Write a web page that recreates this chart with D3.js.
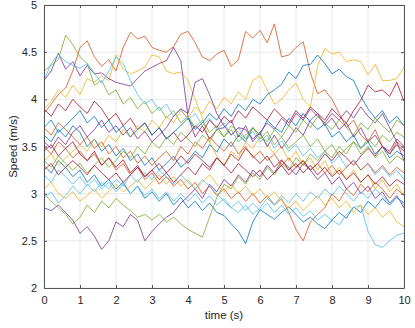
<!DOCTYPE html>
<html>
<head>
<meta charset="utf-8">
<script src="https://cdn.jsdelivr.net/npm/d3@7"></script>
<style>
  body { margin: 0; background: #fff; }
  text { font-family: "Liberation Sans", Arial, sans-serif; fill: #262626; }
</style>
</head>
<body>
<script>
// time axis: 0..10 s, step 0.2 s
var times = d3.range(0, 51).map(function(i){ return +(i * 0.2).toFixed(1); });
var xTicks = [0,1,2,3,4,5,6,7,8,9,10];
var yTicks = [2,2.5,3,3.5,4,4.5,5];
var colors = ['#0072BD','#D95319','#EDB120','#7E2F8E','#77AC30','#4DBEEE','#A2142F'];

var s1 = [3.62,3.55,3.68,3.6,3.72, 3.65,3.5,3.58,3.45,3.52, 3.4,3.48,3.35,3.42,3.3, 3.38,3.25,3.32,3.4,3.28, 3.35,3.45,3.38,3.52,3.44, 3.58,3.5,3.62,3.55,3.7, 3.62,3.78,3.7,3.65,3.8, 3.72,3.85,3.76,3.68,3.74, 3.6,3.66,3.55,3.62,3.48, 3.55,3.42,3.5,3.38,3.45, 3.4];
var s2 = [3.85,3.95,4.05,4.12,4.3, 4.55,4.62,4.45,4.35,4.42, 4.3,4.55,4.71,4.64,4.67, 4.55,4.52,4.5,4.56,4.69, 4.72,4.6,4.45,4.41,4.48, 4.52,4.35,4.42,4.72,4.65, 4.73,4.6,4.8,4.45,4.47, 4.55,4.61,4.28,4.06,4.1, 4.0,3.85,3.7,3.78,3.62, 3.55,3.68,3.5,3.42,3.55, 3.48];
var s3 = [3.9,3.98,4.1,4.02,4.15, 4.05,4.22,4.18,4.25,4.2, 4.47,4.32,4.27,4.3,4.34, 4.47,4.45,4.3,4.27,4.29, 4.2,4.0,3.8,3.55,3.4, 3.3,3.45,3.38,3.55,3.48, 3.6,3.52,3.42,3.5,3.35, 3.45,3.3,3.38,3.25,3.35, 3.2,3.28,3.15,3.25,3.12, 3.2,3.05,3.15,3.02,3.1, 2.98];
var s4 = [4.2,4.3,4.49,4.32,4.4, 4.25,4.36,4.27,4.28,4.22, 4.18,4.16,4.14,4.22,4.3, 4.34,4.38,4.41,4.55,4.41, 3.82,3.6,3.72,3.58,3.68, 3.7,3.78,3.6,3.72,3.55, 3.65,3.5,3.62,3.48,3.58, 3.7,3.62,3.78,3.85,3.72, 3.8,3.68,3.75,3.6,3.7, 3.55,3.62,3.5,3.45,3.58, 3.5];
var s5 = [4.3,4.36,4.42,4.68,4.58, 4.45,4.38,4.15,4.2,4.05, 4.1,3.95,4.02,3.9,3.98, 3.85,3.92,3.8,3.88,3.75, 3.82,3.7,3.78,3.65,3.72, 3.6,3.68,3.55,3.62,3.7, 3.58,3.66,3.52,3.6,3.48, 3.55,3.62,3.5,3.58,3.45, 3.52,3.4,3.48,3.55,3.42, 3.5,3.38,3.45,3.32,3.4, 3.35];
var s6 = [4.2,4.38,4.48,4.4,4.36, 4.33,4.38,4.28,4.17,4.3, 4.45,4.38,4.2,4.05,3.95, 4.0,3.88,3.95,3.82,3.9, 3.78,3.85,3.72,3.8,3.68, 3.75,3.62,3.7,3.58,3.66, 3.55,3.62,3.48,3.56,3.45, 3.52,3.4,3.48,3.38,3.45, 3.32,3.4,3.28,3.36,3.25, 3.32,3.2,3.28,3.18,3.25, 3.15];
var s7 = [3.9,3.82,3.95,3.88,4.0, 3.92,3.85,3.98,3.9,3.78, 3.85,3.72,3.8,3.68,3.75, 3.62,3.7,3.58,3.65,3.55, 3.62,3.72,3.65,3.78,3.7, 3.82,3.75,3.88,3.8,3.92, 3.85,3.78,3.9,3.82,3.75, 3.88,3.8,3.92,3.85,3.78, 3.9,3.82,3.75,3.88,3.99, 4.15,4.08,4.1,4.03,4.18, 3.98];
var s8 = [3.3,3.22,3.35,3.28,3.18, 3.25,3.12,3.2,3.08,3.15, 3.05,3.12,3.0,3.08,2.95, 3.02,2.92,3.0,2.88,2.96, 2.85,2.92,2.82,2.9,2.8, 2.77,2.68,2.6,2.47,2.7, 2.83,2.78,2.73,2.8,2.86, 2.78,2.7,2.75,2.68,2.63, 2.72,2.8,2.74,2.86,2.8, 2.92,2.85,2.95,2.88,2.96, 2.9];
var s9 = [3.5,3.42,3.55,3.48,3.38, 3.45,3.35,3.42,3.3,3.38, 3.25,3.32,3.2,3.28,3.15, 3.22,3.1,3.18,3.08,3.15, 3.05,3.12,3.0,3.08,2.98, 3.05,2.95,3.02,2.92,3.0, 2.9,2.98,2.88,2.95,2.8, 2.62,2.5,2.7,2.78,2.85, 3.0,2.92,3.05,2.98,3.1, 3.02,3.12,3.05,2.95,3.05, 2.98];
var s10 = [3.35,3.42,3.3,3.38,3.45, 3.52,3.45,3.58,3.5,3.62, 3.55,3.68,3.6,3.72,3.65, 3.78,3.7,3.82,3.75,3.88, 3.8,3.92,3.85,3.98,3.9, 4.02,3.95,4.08,4.0,4.2, 4.25,4.1,3.95,4.0,4.1, 4.17,4.0,3.92,4.35,4.54, 4.48,4.5,4.4,4.42,4.4, 4.26,4.37,4.2,4.2,4.22, 4.34];
var s11 = [2.85,2.82,2.88,2.8,2.72, 2.58,2.65,2.55,2.41,2.5, 2.7,2.65,2.78,2.72,2.5, 2.6,2.68,2.75,2.8,2.9, 2.97,3.05,2.95,3.1,3.02, 3.15,3.08,3.2,3.12,3.25, 3.18,3.3,3.22,3.35,3.28, 3.2,3.32,3.25,3.15,3.22, 3.1,3.18,3.05,3.12,3.0, 3.08,2.95,3.02,2.9,2.98, 2.85];
var s12 = [3.0,2.92,2.85,2.78,2.68, 2.75,2.88,2.8,2.92,2.85, 2.95,2.88,2.82,2.75,2.78, 2.72,2.78,2.7,2.75,2.68, 2.62,2.58,2.54,2.75,2.96, 3.1,3.05,3.18,3.1,3.22, 3.15,3.28,3.2,3.32,3.25, 3.38,3.3,3.42,3.35,3.45, 3.38,3.5,3.42,3.55,3.48, 3.58,3.5,3.62,3.55,3.65, 3.6];
var s13 = [3.2,3.12,3.25,3.18,3.1, 3.18,3.08,3.15,3.05,3.12, 3.02,3.1,3.0,3.08,2.98, 3.05,2.95,3.02,2.92,3.0, 2.92,3.0,2.9,2.98,2.88, 2.95,2.85,2.92,2.82,2.9, 2.82,2.9,2.8,2.88,2.78, 2.85,2.76,2.82,2.72,2.78, 2.72,2.67,2.78,2.85,2.88, 2.6,2.46,2.43,2.5,2.56, 2.58];
var s14 = [3.45,3.52,3.4,3.48,3.55, 3.42,3.35,3.45,3.3,3.38, 3.28,3.36,3.22,3.3,3.18, 3.25,3.15,3.22,3.12,3.2, 3.28,3.2,3.32,3.25,3.38, 3.3,3.42,3.35,3.48,3.4, 3.32,3.4,3.28,3.36,3.25, 3.32,3.22,3.3,3.2,3.28, 3.18,3.25,3.15,3.22,3.12, 3.2,3.1,3.18,3.08,3.15, 3.1];
var s15 = [3.7,3.78,3.65,3.72,3.8, 3.88,3.75,3.82,3.7,3.78, 3.65,3.72,3.6,3.68,3.75, 3.62,3.7,3.58,3.65,3.72, 3.8,3.68,3.75,3.85,3.78, 3.9,3.82,3.95,3.88,4.0, 3.95,4.05,4.1,4.16,4.29, 4.22,4.36,4.37,4.47,4.38, 4.27,4.32,4.24,4.2,4.03, 3.9,3.8,3.88,3.75,3.82, 3.72];
var s16 = [3.7,3.62,3.75,3.68,3.6, 3.52,3.6,3.48,3.55,3.42, 3.5,3.38,3.45,3.32,3.4, 3.3,3.38,3.45,3.35,3.5, 3.42,3.55,3.48,3.6,3.52, 3.45,3.55,3.42,3.5,3.38, 3.45,3.35,3.42,3.3,3.38, 3.28,3.35,3.25,3.32,3.22, 3.3,3.2,3.28,3.35,3.25, 3.32,3.22,3.3,3.2,3.28, 3.22];
var s17 = [3.05,3.12,3.0,2.95,3.02, 2.92,2.98,3.05,2.95,3.02, 3.1,3.02,3.08,3.15,3.05, 3.12,3.2,3.1,3.18,3.08, 3.15,3.05,3.12,3.2,3.1, 3.02,3.1,3.0,3.08,2.98, 3.05,2.95,3.02,2.92,2.85, 2.92,2.82,2.9,2.98,2.88, 2.95,2.85,2.92,2.8,2.88, 2.78,2.85,2.75,2.82,2.7, 2.65];
var s18 = [3.55,3.48,3.6,3.52,3.65, 3.72,3.6,3.68,3.78,3.65, 3.72,3.62,3.7,3.58,3.66, 3.55,3.62,3.7,3.82,3.9, 3.85,4.18,4.22,4.05,3.85, 3.72,3.62,3.7,3.68,3.58, 3.65,3.75,3.68,3.8,3.72, 3.85,3.78,3.9,3.82,3.75, 3.85,3.78,3.88,3.8,3.92, 3.82,3.75,3.85,3.7,3.55, 3.35];
var s19 = [3.35,3.28,3.4,3.32,3.25, 3.32,3.22,3.3,3.38,3.28, 3.35,3.45,3.38,3.5,3.42, 3.55,3.48,3.6,3.52,3.65, 3.58,3.5,3.62,3.55,3.68, 3.6,3.72,3.65,3.58,3.7, 3.62,3.55,3.68,3.6,3.72, 3.65,3.78,3.7,3.82,3.75, 3.68,3.78,3.7,3.62,3.75, 3.68,3.8,3.72,3.65,3.78, 3.72];
var s20 = [2.95,3.02,2.9,2.98,3.08, 3.0,3.1,3.02,3.12,3.05, 3.15,3.08,3.2,3.12,3.22, 3.15,3.25,3.18,3.1,3.2, 3.12,3.05,3.15,3.08,3.0, 2.92,2.85,2.8,2.88,2.78, 2.85,2.95,2.88,2.98,2.9, 3.0,2.92,3.02,2.95,3.05, 2.98,3.08,3.0,2.92,3.02, 2.95,3.05,2.98,2.9,2.96, 2.88];
var s21 = [3.25,3.32,3.2,3.28,3.35, 3.28,3.2,3.3,3.22,3.15, 3.22,3.12,3.2,3.28,3.18, 3.25,3.32,3.22,3.3,3.4, 3.32,3.42,3.35,3.28,3.38, 3.3,3.22,3.32,3.25,3.18, 3.25,3.15,3.22,3.3,3.2, 3.28,3.35,3.25,3.32,3.42, 3.35,3.45,3.38,3.3,3.4, 3.48,3.4,3.5,3.42,3.52, 3.45];

var series = [s1,s2,s3,s4,s5,s6,s7,s8,s9,s10,s11,s12,s13,s14,s15,s16,s17,s18,s19,s20,s21];

var W = 415, H = 328;
var m = {left:44, right:11, top:5, bottom:40};
var pw = W - m.left - m.right, ph = H - m.top - m.bottom;

var svg = d3.select('body').append('svg').attr('width', W).attr('height', H);

var x = d3.scaleLinear().domain([0,10]).range([m.left, m.left + pw]);
var y = d3.scaleLinear().domain([2,5]).range([m.top + ph, m.top]);

svg.append('defs').append('clipPath').attr('id','clip')
  .append('rect').attr('x', m.left).attr('y', m.top).attr('width', pw).attr('height', ph);

// grid
var grid = svg.append('g');
grid.selectAll('.gx').data(xTicks).enter().append('line')
  .attr('x1', function(d){ return x(d); }).attr('x2', function(d){ return x(d); })
  .attr('y1', m.top).attr('y2', m.top + ph)
  .attr('stroke', '#e3e3e3').attr('stroke-width', 0.8);
grid.selectAll('.gy').data(yTicks).enter().append('line')
  .attr('y1', function(d){ return y(d); }).attr('y2', function(d){ return y(d); })
  .attr('x1', m.left).attr('x2', m.left + pw)
  .attr('stroke', '#e3e3e3').attr('stroke-width', 0.8);

// lines
var line = d3.line().x(function(d,i){ return x(times[i]); }).y(function(d){ return y(d); });
svg.append('g').attr('clip-path','url(#clip)')
  .selectAll('path').data(series).enter().append('path')
  .attr('d', line)
  .attr('fill', 'none')
  .attr('stroke', function(d,i){ return colors[i % colors.length]; })
  .attr('stroke-width', 1)
  .attr('stroke-opacity', 0.8);

// axes (ticks inside, box on)
var axisCol = '#555';
function styleAxis(g, hideText){
  g.select('.domain').attr('stroke', axisCol);
  g.selectAll('.tick line').attr('stroke', axisCol);
  g.selectAll('.tick text').attr('font-size', 11).attr('fill', '#333');
  if (hideText) g.selectAll('.tick text').remove();
}
svg.append('g').attr('transform','translate(0,' + (m.top + ph) + ')')
  .call(d3.axisBottom(x).tickValues(xTicks).tickSizeInner(-3).tickSizeOuter(0).tickPadding(8).tickFormat(d3.format('d')))
  .call(function(g){ styleAxis(g, false); });
svg.append('g').attr('transform','translate(' + m.left + ',0)')
  .call(d3.axisLeft(y).tickValues(yTicks).tickSizeInner(-3).tickSizeOuter(0).tickPadding(7).tickFormat(function(d){ return d3.format('')(d); }))
  .call(function(g){ styleAxis(g, false); });
svg.append('g').attr('transform','translate(0,' + m.top + ')')
  .call(d3.axisTop(x).tickValues(xTicks).tickSizeInner(-3).tickSizeOuter(0))
  .call(function(g){ styleAxis(g, true); });
svg.append('g').attr('transform','translate(' + (m.left + pw) + ',0)')
  .call(d3.axisRight(y).tickValues(yTicks).tickSizeInner(-3).tickSizeOuter(0))
  .call(function(g){ styleAxis(g, true); });

// labels
svg.append('text').attr('x', m.left + pw/2).attr('y', 319)
  .attr('text-anchor','middle').attr('font-size', 11.5).text('time (s)');
svg.append('text').attr('transform','translate(17,' + (m.top + ph/2) + ') rotate(-90)')
  .attr('text-anchor','middle').attr('font-size', 11.5).text('Speed (m/s)');
</script>
</body>
</html>
